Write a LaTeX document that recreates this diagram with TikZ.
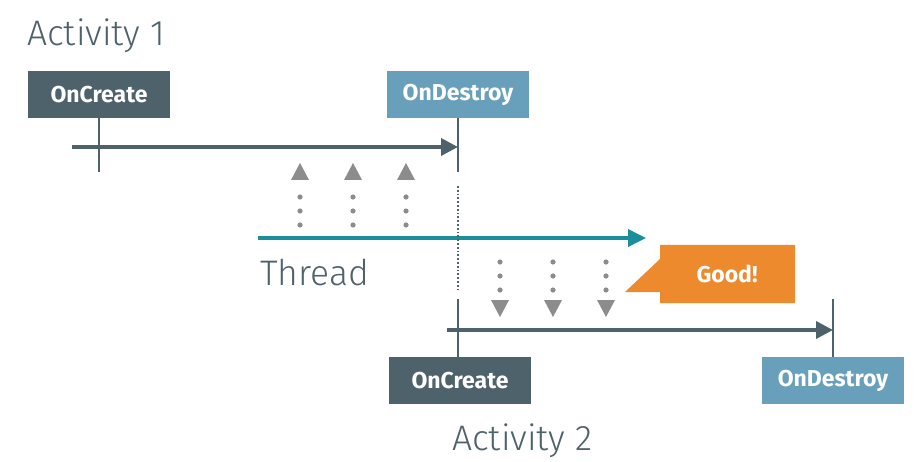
\documentclass[tikz,border=0pt]{standalone}
\usepackage{fontspec}
\setmainfont{Fira Sans}
\newfontfamily\lightfont{Fira Sans}[UprightFont=* Light]
\newfontfamily\boxfont{Fira Sans}[UprightFont=* Bold]
\usetikzlibrary{arrows.meta, positioning}

\definecolor{slate}{HTML}{4E626B}
\definecolor{skyblue}{HTML}{68A0BC}
\definecolor{teal}{HTML}{1A8E9A}
\definecolor{goodorange}{HTML}{EE8A2E}
\definecolor{dotgray}{HTML}{8C8C8C}

\tikzset{
    event/.style={minimum width=142pt, minimum height=47pt, inner sep=0pt,
        text=white, font=\boxfont\fontsize{23}{25}\selectfont},
    createbox/.style={event, fill=slate},
    destroybox/.style={event, fill=skyblue},
    caption/.style={anchor=base west, inner sep=0pt, text=slate,
        font=\lightfont\fontsize{35.5}{38}\selectfont},
    tick/.style={draw=slate, line width=2.4pt},
    life/.style={draw=slate, line width=3.6pt, -{Triangle[length=17pt,width=17pt]}},
}

\begin{document}
\begin{tikzpicture}[x=1pt,y=-1pt]
    \useasboundingbox (0,0) rectangle (920,462);

    % activity 1
    \node[caption] (act1) at (27,46) {Activity 1};
    \node[createbox] (create1) at (99,94.5) {OnCreate};
    \node[destroybox] (destroy1) at (458,94.5) {OnDestroy};
    \coordinate (start1) at (72,147);
    \draw[tick] (create1.south) -- ++(0,54);
    \draw[tick] (destroy1.south) -- ++(0,54);
    \draw[life] (start1) -- (destroy1.south |- start1);

    % thread
    \coordinate (start2) at (258,238);
    \coordinate (end2) at (646,238);
    \draw[draw=teal, line width=3.6pt, -{Triangle[length=18pt,width=17pt]}] (start2) -- (end2);
    \node[caption] (thread) at (260,285) {Thread};
    \draw[slate, line width=1.8pt, dash pattern=on 1.8pt off 2pt] (458,186) -- (458,292);

    % activity 2
    \node[createbox] (create2) at (460,380.5) {OnCreate};
    \node[destroybox] (destroy2) at (833,380.5) {OnDestroy};
    \node[caption] (act2) at (452,450) {Activity 2};
    \coordinate (start3) at (447,330);
    \draw[tick] (create2.north -| 458,0) -- ++(0,-58);
    \draw[tick] (destroy2.north) -- ++(0,-58);
    \draw[life] (start3) -- (destroy2.north |- start3);

    % up and down arrows
    \foreach \x in {300,353,406} {
        \fill[dotgray] (\x-9,180) -- (\x+9,180) -- (\x,163) -- cycle;
        \foreach \y in {197,211,225}
            \fill[dotgray] (\x,\y) circle (2.6pt);
    }
    \foreach \x in {500,553,606} {
        \fill[dotgray] (\x-9,300) -- (\x+9,300) -- (\x,317) -- cycle;
        \foreach \y in {262,276,290}
            \fill[dotgray] (\x,\y) circle (2.6pt);
    }

    % callout
    \fill[goodorange] (660,245) -- (795,245) -- (795,303) -- (660,303)
        -- (660,292) -- (625,292) -- (660,259) -- cycle;
    \node[text=white, font=\boxfont\fontsize{23}{25}\selectfont] (good) at (727,274) {Good!};
\end{tikzpicture}
\end{document}
